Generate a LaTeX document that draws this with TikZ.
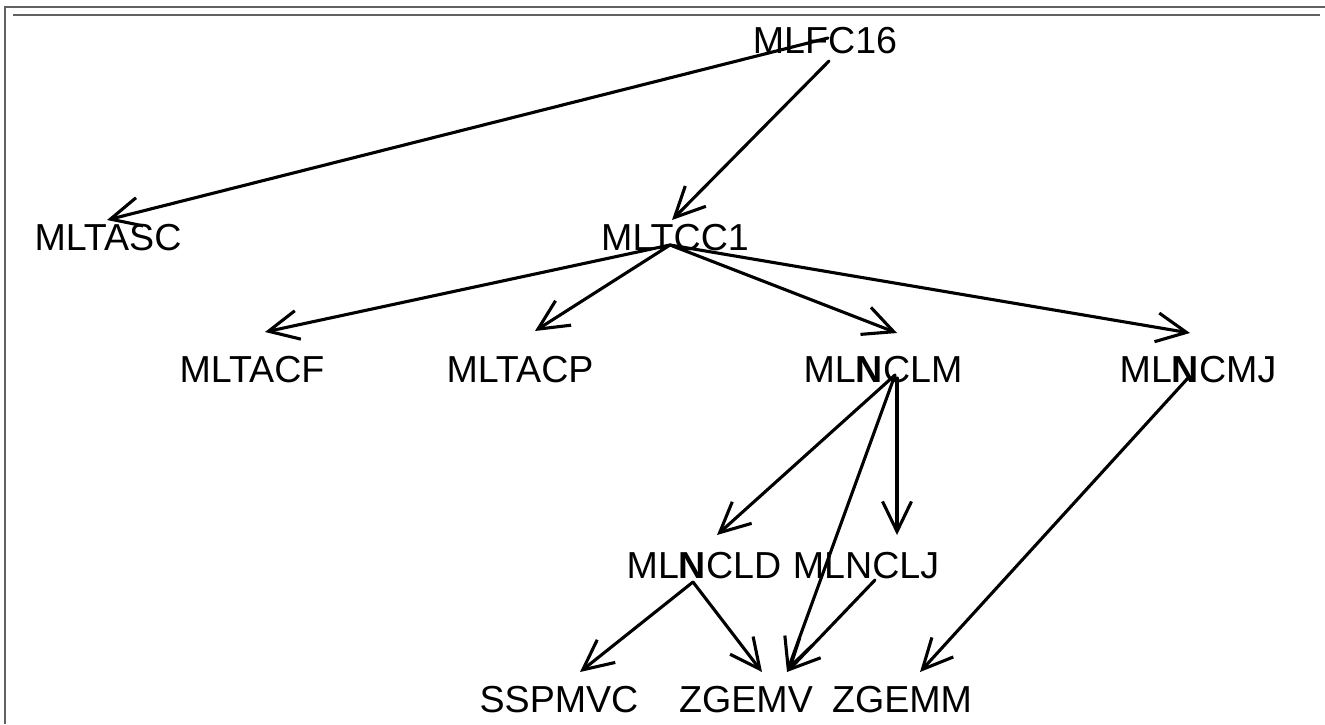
\documentclass[tikz,border=0pt]{standalone}
\usepackage{fontspec}
\setmainfont{Liberation Sans}
\usetikzlibrary{arrows.meta}
\begin{document}
\begin{tikzpicture}[x=1pt,y=-1pt,
  lbl/.style={anchor=base,inner sep=0pt,font=\fontsize{37.6}{40}\selectfont},
  edge/.style={line width=3.1pt,line cap=round,line join=round,
    -{Straight Barb[length=30pt,width=29pt]}},
  rule/.style={draw=black!62,line width=1.5pt}]
\useasboundingbox (0,0) rectangle (1325,724);

% panel rules
\draw[rule] (5,724) -- (5,7) -- (1325,7);
\draw[rule] (13,15) -- (1320,15);

% labels
\node[lbl] (MLFC16) at (825,53)  {MLFC16};
\node[lbl] (MLTASC) at (108,250) {MLTASC};
\node[lbl] (MLTCC1) at (675,250) {MLTCC1};
\node[lbl] (MLTACF) at (252,382) {MLTACF};
\node[lbl] (MLTACP) at (520,382) {MLTACP};
\node[lbl] (MLNCLM) at (883,382) {ML\textbf{N}CLM};
\node[lbl] (MLNCMJ) at (1198,382) {ML\textbf{N}CMJ};
\node[lbl] (MLNCLD) at (704,578) {ML\textbf{N}CLD};
\node[lbl] (MLNCLJ) at (866,578) {MLNCLJ};
\node[lbl] (SSPMVC) at (559,712) {SSPMVC};
\node[lbl] (ZGEMV)  at (746,712) {ZGEMV};
\node[lbl] (ZGEMM)  at (902,712) {ZGEMM};

% call edges
\draw[edge] ([shift={(3,-15)}]MLFC16.base) -- ([shift={(-1,-30)}]MLTASC.base);
\draw[edge] ([shift={(4,8)}]MLFC16.base) -- ([shift={(-3,-30)}]MLTCC1.base);
\draw[edge] ([shift={(-5,-5)}]MLTCC1.base) -- ([shift={(13,-50)}]MLTACF.base);
\draw[edge] ([shift={(-5,-5)}]MLTCC1.base) -- ([shift={(15,-51)}]MLTACP.base);
\draw[edge] ([shift={(-5,-5)}]MLTCC1.base) -- ([shift={(14,-49)}]MLNCLM.base);
\draw[edge] ([shift={(-5,-5)}]MLTCC1.base) -- ([shift={(-8,-49)}]MLNCMJ.base);
\draw[edge] ([shift={(12,-7)}]MLNCLM.base) -- ([shift={(13,-43)}]MLNCLD.base);
\draw[edge] ([shift={(12,-7)}]MLNCLM.base) -- ([shift={(41,-40)}]ZGEMV.base);
\draw[edge] ([shift={(14,-4)}]MLNCLM.base) -- ([shift={(31,-43)}]MLNCLJ.base);
\draw[edge] ([shift={(9,2)}]MLNCLJ.base) -- ([shift={(41,-40)}]ZGEMV.base);
\draw[edge] ([shift={(-10,-4)}]MLNCMJ.base) -- ([shift={(18,-40)}]ZGEMM.base);
\draw[edge] ([shift={(-11,4)}]MLNCLD.base) -- ([shift={(16,-40)}]ZGEMV.base);
\draw[edge] ([shift={(-11,4)}]MLNCLD.base) -- ([shift={(21,-40)}]SSPMVC.base);
\end{tikzpicture}
\end{document}
